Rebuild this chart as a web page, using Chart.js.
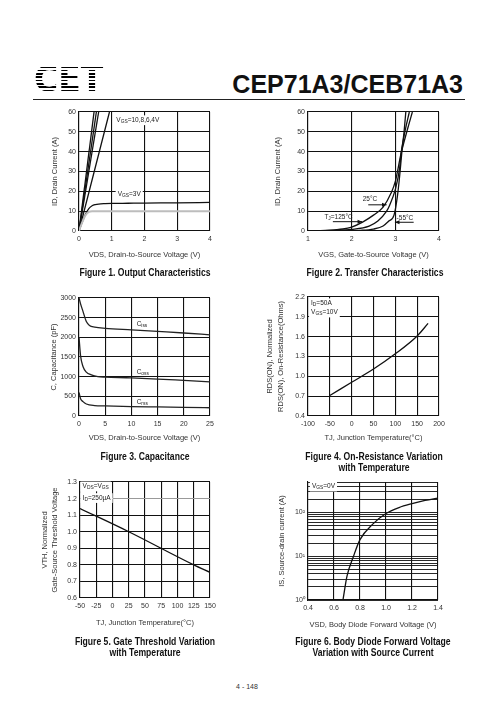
<!DOCTYPE html>
<html>
<head>
<meta charset="utf-8">
<script src="https://cdn.jsdelivr.net/npm/chart.js@4.4.0/dist/chart.umd.min.js"></script>
<style>
  body { margin: 0; background: #fff; width: 496px; height: 723px; position: relative; overflow: hidden;
         font-family: "Liberation Sans", Arial, sans-serif; color: #111; }
  canvas { position: absolute; }
  #logo { position: absolute; left: 34px; top: 60px; width: 72px; height: 34px; font-family: "DejaVu Sans", sans-serif;
          font-weight: bold; font-size: 33px; line-height: 34px; letter-spacing: 0px;
          background: repeating-linear-gradient(to bottom, #000 0 1.4px, transparent 1.4px 3px);
          -webkit-background-clip: text; background-clip: text; color: transparent; transform: scaleY(1.1); transform-origin: top left; }
  #title { position: absolute; left: 200px; width: 263px; text-align: right; top: 72px; font-size: 25px; line-height: 25px; font-weight: bold; color: #111; }
  #rule { position: absolute; left: 33px; top: 99px; width: 432px; height: 1px; background: #222; }
  .cap { position: absolute; width: 220px; text-align: center; font-family: "Liberation Sans", Arial, sans-serif;
         font-weight: bold; font-size: 10.5px; line-height: 10.5px; color: #111; transform: scaleX(0.82); transform-origin: center top; }
  #page { position: absolute; left: 197px; width: 100px; top: 683px; text-align: center; font-size: 7px; color: #333; }
</style>
</head>
<body>
<div id="logo">CET</div>
<div id="title">CEP71A3/CEB71A3</div>
<div id="rule"></div>

<canvas id="c1"></canvas>
<canvas id="c2"></canvas>
<canvas id="c3"></canvas>
<canvas id="c4"></canvas>
<canvas id="c5"></canvas>
<canvas id="c6"></canvas>

<div class="cap" style="left:35px; top:267px;">Figure 1. Output Characteristics</div>
<div class="cap" style="left:265px; top:267px;">Figure 2. Transfer Characteristics</div>
<div class="cap" style="left:35px; top:451px;">Figure 3. Capacitance</div>
<div class="cap" style="left:264px; top:451px;">Figure 4. On-Resistance Variation<br>with Temperature</div>
<div class="cap" style="left:35px; top:636px;">Figure 5. Gate Threshold Variation<br>with Temperature</div>
<div class="cap" style="left:263px; top:636px;">Figure 6. Body Diode Forward Voltage<br>Variation with Source Current</div>
<div id="page">4 - 148</div>

<script>
// Figure 1 - output characteristics
const out10X = [0, 0.46], out10Y = [0, 60];
const out8X = [0, 0.53], out8Y = [0, 60];
const out6X = [0, 0.60], out6Y = [0, 60];
const out4X = [0, 0.93], out4Y = [0, 60];
const out3X = [0, 0.1, 0.2, 0.3, 0.4, 0.5, 0.6, 0.8, 1.0, 1.5, 2, 3, 4];
const out3Y = [0, 4.5, 8.5, 11.3, 12.7, 13.3, 13.6, 13.8, 13.9, 14.0, 14.1, 14.2, 14.4];
const outGreyX = [0, 0.1, 0.2, 0.3, 0.4, 4];
const outGreyY = [0, 4.5, 8, 9.6, 10, 10];

// Figure 2 - transfer characteristics
const tr125X = [1.0, 1.4, 1.8, 2.0, 2.25, 2.5, 2.72, 2.9, 3.0, 3.13, 3.2, 3.3, 3.39];
const tr125Y = [0, 0.3, 1, 2, 4.5, 8, 12, 19, 25, 39, 45, 53, 60];
const tr25X = [1.2, 1.6, 2.0, 2.4, 2.6, 2.8, 2.87, 3.0, 3.1, 3.13, 3.2, 3.32];
const tr25Y = [0, 0.2, 0.8, 2.5, 5, 10, 13, 21, 32, 39, 48, 60];
const trM55X = [1.8, 2.2, 2.5, 2.72, 2.85, 2.97, 3.05, 3.1, 3.15, 3.2, 3.24];
const trM55Y = [0, 0.3, 1, 2.5, 5, 8, 18, 28, 40, 50, 60];

// Figure 3 - capacitance
const cissX = [0, 0.3, 0.76, 1.4, 2, 3, 5, 10, 15, 20, 25];
const cissY = [3000, 2850, 2660, 2400, 2300, 2260, 2230, 2190, 2150, 2110, 2065];
const cossX = [0, 0.3, 0.76, 1.4, 2.35, 3.6, 5, 10, 15, 20, 25];
const cossY = [2000, 1530, 1260, 1115, 1045, 1000, 990, 970, 940, 905, 870];
const crssX = [0, 0.3, 0.76, 1.4, 3, 5, 10, 15, 20, 25];
const crssY = [600, 440, 365, 305, 265, 255, 240, 230, 220, 210];

// Figure 4 - on-resistance vs temperature
const rdsT = [-50, 0, 50, 100, 150, 175];
const rdsV = [0.71, 0.91, 1.11, 1.34, 1.61, 1.80];

// Figure 5 - gate threshold vs temperature
const vthT = [-50, 25, 125, 150];
const vthV = [1.14, 1.0, 0.80, 0.755];

// Figure 6 - body diode forward voltage
const vsdX = [0.669, 0.7, 0.75, 0.8, 0.9, 1.0, 1.1, 1.2, 1.3, 1.4];
const isY = [1, 3.5, 10, 24, 55, 95, 130, 160, 190, 215];
const isTicks = [1, 2, 3, 4, 5, 6, 7, 8, 9, 10, 20, 30, 40, 50, 60, 70, 80, 90, 100, 200, 300, 400, 500];

function pts(xs, ys) {
  return xs.map((x, i) => ({ x: x, y: ys[i] }));
}

function line(xs, ys, color, width) {
  return {
    data: pts(xs, ys),
    showLine: true,
    borderColor: color || '#111',
    borderWidth: width || 1.3,
    pointRadius: 0,
    cubicInterpolationMode: 'monotone',
    fill: false
  };
}

// draws text labels (with _{sub} subscripts) and arrows in data coordinates
const notesPlugin = {
  id: 'notes',
  afterDatasetsDraw(chart, args, opts) {
    const ctx = chart.ctx;
    const xs = chart.scales.x, ys = chart.scales.y;
    ctx.save();
    (opts.arrows || []).forEach(a => {
      const x1 = xs.getPixelForValue(a[0]), y1 = ys.getPixelForValue(a[1]);
      const x2 = xs.getPixelForValue(a[2]), y2 = ys.getPixelForValue(a[3]);
      const ang = Math.atan2(y2 - y1, x2 - x1);
      ctx.strokeStyle = '#111';
      ctx.lineWidth = 1;
      ctx.beginPath();
      ctx.moveTo(x1, y1);
      ctx.lineTo(x2, y2);
      ctx.stroke();
      ctx.fillStyle = '#111';
      ctx.beginPath();
      ctx.moveTo(x2, y2);
      ctx.lineTo(x2 - 5 * Math.cos(ang - 0.4), y2 - 5 * Math.sin(ang - 0.4));
      ctx.lineTo(x2 - 5 * Math.cos(ang + 0.4), y2 - 5 * Math.sin(ang + 0.4));
      ctx.closePath();
      ctx.fill();
    });
    const size = opts.size || 6.5;
    (opts.items || []).forEach(n => {
      const runs = [];
      n.text.split(/(_\{[^}]*\})/).forEach(p => {
        if (!p) return;
        if (p.startsWith('_{')) runs.push({ t: p.slice(2, -1), sub: true });
        else runs.push({ t: p, sub: false });
      });
      let w = 0;
      runs.forEach(r => {
        ctx.font = (r.sub ? size * 0.75 : size) + 'px "Liberation Sans", Arial, sans-serif';
        r.w = ctx.measureText(r.t).width;
        w += r.w;
      });
      let x = xs.getPixelForValue(n.x);
      const y = ys.getPixelForValue(n.y);
      if (n.align === 'center') x -= w / 2;
      if (n.box) {
        ctx.fillStyle = '#fff';
        ctx.fillRect(x - 2, y - size * 0.7, w + 4, size * 1.5);
      }
      ctx.fillStyle = '#222';
      ctx.textBaseline = 'middle';
      ctx.textAlign = 'left';
      runs.forEach(r => {
        ctx.font = (r.sub ? size * 0.75 : size) + 'px "Liberation Sans", Arial, sans-serif';
        ctx.fillText(r.t, x, r.sub ? y + 1.8 : y);
        x += r.w;
      });
    });
    ctx.restore();
  }
};

const tickFont = { family: '"Liberation Sans", Arial, sans-serif', size: 7 };
const titleFont = { family: '"Liberation Sans", Arial, sans-serif', size: 7.5 };
const Y_W = 60, X_H = 45, PAD_T = 8, PAD_R = 12;

function makeChart(id, area, datasets, xOpt, yOpt, notes) {
  const cv = document.getElementById(id);
  cv.width = (area.r - area.l) + Y_W + PAD_R;
  cv.height = (area.b - area.t) + PAD_T + X_H;
  cv.style.left = (area.l - Y_W) + 'px';
  cv.style.top = (area.t - PAD_T) + 'px';
  const grid = { color: '#111', lineWidth: 1.1, drawTicks: false };
  const border = { display: true, color: '#111', width: 1.1 };
  return new Chart(cv, {
    type: 'scatter',
    data: { datasets: datasets },
    plugins: [notesPlugin],
    options: {
      responsive: false,
      animation: false,
      layout: { padding: { left: 0, top: PAD_T, right: PAD_R, bottom: 0 } },
      plugins: { legend: { display: false }, tooltip: { enabled: false }, notes: notes },
      scales: {
        x: Object.assign({
          type: 'linear',
          grid: grid,
          border: border,
          afterFit: s => { s.height = X_H; },
          ticks: Object.assign({ font: tickFont, color: '#333', padding: 4, autoSkip: false, maxRotation: 0 }, xOpt.ticks),
          title: { display: true, text: xOpt.title, font: titleFont, color: '#333', padding: { top: 0, bottom: xOpt.titlePad } }
        }, xOpt.scale),
        y: Object.assign({
          type: 'linear',
          grid: Object.assign({}, grid, yOpt.grid || {}),
          border: border,
          afterFit: s => { s.width = Y_W; },
          ticks: Object.assign({ font: tickFont, color: '#333', padding: 3, autoSkip: false }, yOpt.ticks),
          title: { display: true, text: yOpt.title, font: Object.assign({}, titleFont, yOpt.titleFont || {}), color: '#333', padding: { top: yOpt.titlePad, bottom: 0 } }
        }, yOpt.scale)
      }
    }
  });
}

const dec1 = v => Number(v).toFixed(1);
const plain = v => String(v);

// Figure 1
makeChart('c1', { l: 79, t: 112, r: 210, b: 231 },
  [
    line(outGreyX, outGreyY, '#bdbdbd', 2),
    line(out10X, out10Y), line(out8X, out8Y), line(out6X, out6Y), line(out4X, out4Y),
    line(out3X, out3Y)
  ],
  { scale: { min: 0, max: 4 }, ticks: { stepSize: 1 }, title: 'VDS, Drain-to-Source Voltage (V)', titlePad: 16.5 },
  { scale: { min: 0, max: 60 }, ticks: { stepSize: 10 }, title: 'ID, Drain Current (A)', titlePad: 31.5 },
  { items: [
      { x: 1.14, y: 56, text: 'V_{GS}=10,8,6,4V', box: true },
      { x: 1.18, y: 18.5, text: 'V_{GS}=3V', box: true }
  ] });

// Figure 2
makeChart('c2', { l: 308, t: 112, r: 439, b: 231 },
  [ line(tr125X, tr125Y), line(tr25X, tr25Y), line(trM55X, trM55Y) ],
  { scale: { min: 1, max: 4 }, ticks: { stepSize: 1 }, title: 'VGS, Gate-to-Source Voltage (V)', titlePad: 16.5 },
  { scale: { min: 0, max: 60 }, ticks: { stepSize: 10 }, title: 'ID, Drain Current (A)', titlePad: 25.5 },
  { items: [
      { x: 1.7, y: 7, text: 'T_{J}=125°C', align: 'center' },
      { x: 2.42, y: 16.2, text: '25°C', align: 'center' },
      { x: 3.22, y: 6.7, text: '-55°C', align: 'center' }
    ],
    arrows: [ [1.57, 4.7, 2.24, 4.7], [2.38, 13.2, 2.8, 13.2], [3.42, 4.4, 2.99, 4.4] ] });

// Figure 3
makeChart('c3', { l: 79, t: 298, r: 210, b: 416 },
  [ line(cissX, cissY, '#222'), line(cossX, cossY, '#222'), line(crssX, crssY, '#222') ],
  { scale: { min: 0, max: 25 }, ticks: { stepSize: 5 }, title: 'VDS, Drain-to-Source Voltage (V)', titlePad: 18.5 },
  { scale: { min: 0, max: 3000 }, ticks: { stepSize: 500, callback: plain }, title: 'C, Capacitance (pF)', titlePad: 30.5 },
  { items: [
      { x: 11, y: 2340, text: 'C_{iss}' },
      { x: 11, y: 1115, text: 'C_{oss}' },
      { x: 11, y: 350, text: 'C_{rss}' }
  ] });

// Figure 4
makeChart('c4', { l: 308, t: 297, r: 439, b: 416 },
  [ line(rdsT, rdsV) ],
  { scale: { min: -100, max: 200 }, ticks: { stepSize: 50 }, title: 'TJ, Junction Temperature(°C)', titlePad: 18.5 },
  { scale: { min: 0.4, max: 2.2 }, ticks: { stepSize: 0.3, callback: dec1 },
    title: ['RDS(ON), Normalized', 'RDS(ON), On-Resistance(Ohms)'], titleFont: { lineHeight: 1.45 }, titlePad: 16.6 },
  { items: [
      { x: -93, y: 2.11, text: 'I_{D}=50A', box: true },
      { x: -93, y: 1.97, text: 'V_{GS}=10V', box: true }
  ] });

// Figure 5
makeChart('c5', { l: 80, t: 482, r: 210, b: 598 },
  [ line(vthT, vthV) ],
  { scale: { min: -50, max: 150 }, ticks: { stepSize: 25 }, title: 'TJ, Junction Temperature(°C)', titlePad: 15.5 },
  { scale: { min: 0.6, max: 1.3 }, ticks: { stepSize: 0.1, callback: dec1 },
    grid: { color: c => (c.tick && Math.abs(c.tick.value - 1.2) < 1e-6) ? '#999' : '#111' },
    title: ['VTH, Normalized', 'Gate-Source Threshold Voltage'], titleFont: { lineHeight: 1.33 }, titlePad: 20 },
  { items: [
      { x: -46, y: 1.275, text: 'V_{DS}=V_{GS}', box: true },
      { x: -46, y: 1.205, text: 'I_{D}=250µA', box: true }
  ] });

// Figure 6
makeChart('c6', { l: 308, t: 482, r: 438, b: 600 },
  [ line(vsdX, isY) ],
  { scale: { min: 0.4, max: 1.4 }, ticks: { stepSize: 0.2, callback: dec1 }, title: 'VSD, Body Diode Forward Voltage (V)', titlePad: 15.5 },
  { scale: { type: 'logarithmic', min: 1, max: 500, afterBuildTicks: s => { s.ticks = isTicks.map(v => ({ value: v })); } },
    ticks: { callback: v => (v === 1 ? '10⁰' : v === 10 ? '10¹' : v === 100 ? '10²' : '') },
    grid: { lineWidth: 0.9 },
    title: 'IS, Source-drain current (A)', titlePad: 29.5 },
  { items: [ { x: 0.43, y: 400, text: 'V_{GS}=0V', box: true } ] });
</script>
</body>
</html>
